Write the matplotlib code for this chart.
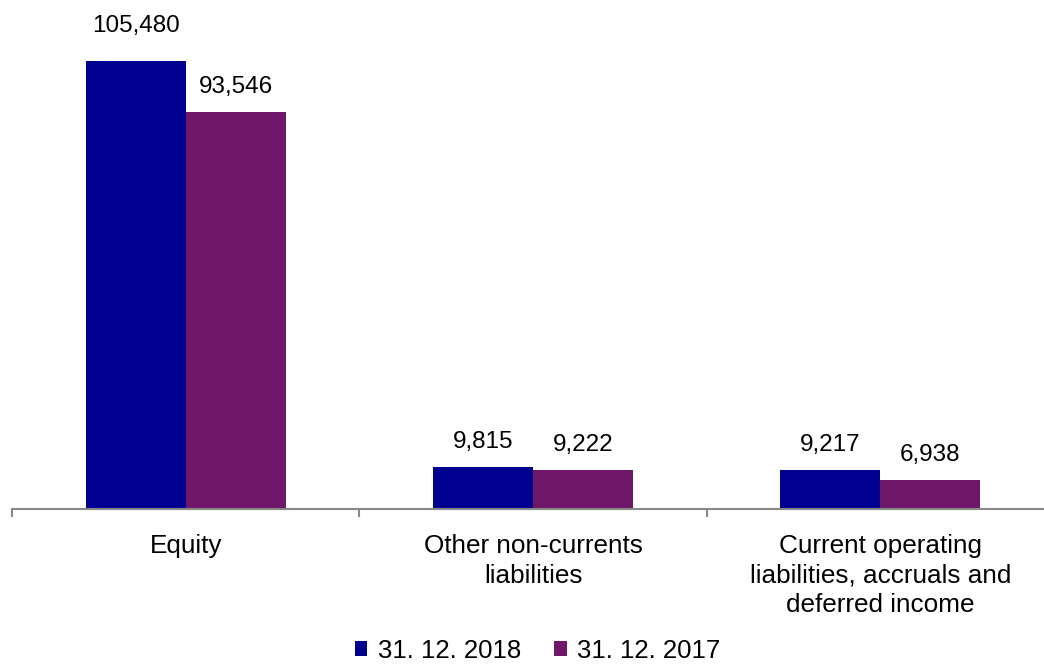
import numpy as np
import matplotlib.pyplot as plt

plt.rcParams['font.family'] = ['Liberation Sans', 'DejaVu Sans']

categories = ['Equity', 'Other non-currents\nliabilities',
              'Current operating\nliabilities, accruals and\ndeferred income']
series_names = ['31. 12. 2018', '31. 12. 2017']
values_2018 = [105480, 9815, 9217]
values_2017 = [93546, 9222, 6938]
colors = ['#000090', '#6F186A']

fs = 17.5
fig = plt.figure(figsize=(10.44, 6.66), dpi=100)
ax = fig.add_axes([12 / 1044, 1 - 509 / 666, 1042 / 1044, 499 / 666])

x = np.arange(len(categories))
w = 0.288
top_val = max(values_2018 + values_2017)
for vals, off, col, name in [(values_2018, -w / 2, colors[0], series_names[0]),
                             (values_2017, w / 2, colors[1], series_names[1])]:
    bars = ax.bar(x + off, vals, width=w, color=col, label=name)
    for b, v in zip(bars, vals):
        dy = 17 if v == top_val else 10
        ax.annotate(f'{v:,}', (b.get_x() + b.get_width() / 2, v),
                    xytext=(0, dy), textcoords='offset points',
                    ha='center', va='bottom', fontsize=fs)

ax.set_xlim(-0.5, 2.5)
ax.set_ylim(0, 105480 * 499 / 448)
ax.set_yticks([])
for s in ['left', 'top', 'right']:
    ax.spines[s].set_visible(False)
ax.spines['bottom'].set_color('#888888')
ax.spines['bottom'].set_linewidth(1.5)

ax.set_xticks([-0.5, 0.5, 1.5, 2.5])
ax.set_xticklabels([])
ax.tick_params(axis='x', which='major', length=6, width=1.5, color='#888888')
ax.set_xticks(x, minor=True)
ax.set_xticklabels(categories, minor=True, fontsize=18.8, linespacing=1.3)
ax.tick_params(axis='x', which='minor', length=0, pad=18)

fig.legend(loc='lower center', bbox_to_anchor=(0.515, -0.03), ncol=2,
           frameon=False, fontsize=18.5, handlelength=0.5, handleheight=0.5,
           handletextpad=0.4, columnspacing=1.3)

fig.savefig('out.png', dpi=100)
